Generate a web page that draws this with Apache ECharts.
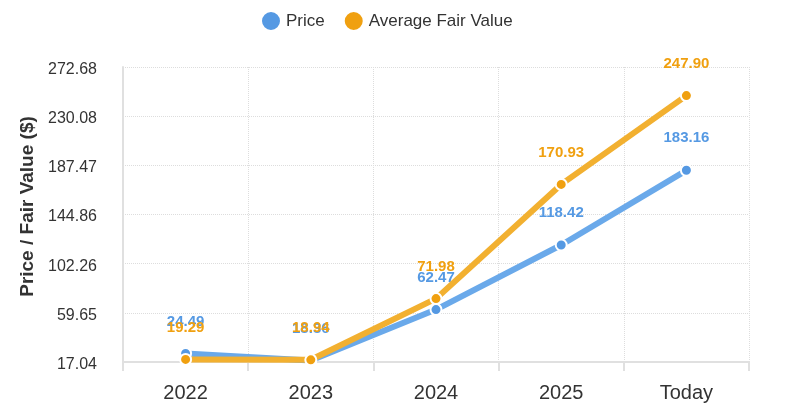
<!DOCTYPE html>
<html>
<head>
<meta charset="utf-8">
<script src="https://cdn.jsdelivr.net/npm/echarts@6/dist/echarts.min.js"></script>
<style>html,body{margin:0;padding:0;background:#fff;}#c{width:795px;height:417px;}</style>
</head>
<body>
<div id="c"></div>
<script>
var categories = ['2022', '2023', '2024', '2025', 'Today'];
var priceValues = [24.49, 18.36, 62.47, 118.42, 183.16];
var fairValues = [19.29, 18.94, 71.98, 170.93, 247.90];
var yTickValues = [17.04, 59.65, 102.26, 144.86, 187.47, 230.08, 272.68];

var chart = echarts.init(document.getElementById('c'), null, {renderer: 'canvas'});
var font = 'Liberation Sans, Arial, sans-serif';
var blue = '#5599e3';
var orange = '#f0a010';
chart.setOption({
  animation: false,
  backgroundColor: '#fff',
  textStyle: {fontFamily: font},
  legend: {
    top: 5,
    left: 255,
    itemWidth: 20,
    itemHeight: 20,
    itemGap: 18,
    icon: 'circle',
    textStyle: {fontSize: 17, color: '#333', fontFamily: font},
    data: ['Price', 'Average Fair Value']
  },
  grid: {left: 123, right: 46, top: 67, bottom: 55, containLabel: false},
  xAxis: {
    type: 'category',
    data: categories,
    boundaryGap: true,
    axisLine: {show: true, lineStyle: {color: '#e0e0e0', width: 2}},
    axisTick: {show: true, length: 9, lineStyle: {color: '#e0e0e0', width: 2}},
    axisLabel: {fontSize: 20, color: '#333', margin: 21, fontFamily: font},
    splitLine: {show: true, lineStyle: {color: '#dddddd', type: 'dotted', width: 1}}
  },
  yAxis: {
    type: 'value',
    min: yTickValues[0],
    max: yTickValues[yTickValues.length - 1],
    name: 'Price / Fair Value ($)',
    nameLocation: 'middle',
    nameGap: 86,
    nameTextStyle: {fontSize: 19, fontWeight: 'bold', color: '#333', fontFamily: font, padding: [0, 0, 0, 16]},
    axisLine: {show: true, lineStyle: {color: '#e0e0e0', width: 2}},
    axisTick: {show: false, customValues: yTickValues},
    axisLabel: {
      fontSize: 16, color: '#333', margin: 26, fontFamily: font,
      customValues: yTickValues,
      formatter: function (v) { return '{a|' + v.toFixed(2) + '}'; },
      rich: {a: {fontSize: 16, color: '#333', fontFamily: font, padding: [5, 0, 0, 0]}}
    },
    splitLine: {show: true, lineStyle: {color: '#dddddd', type: 'dotted', width: 1}}
  },
  series: [
    {
      name: 'Price',
      type: 'line',
      data: priceValues,
      symbol: 'circle',
      symbolSize: 11,
      itemStyle: {color: blue, borderColor: '#fff', borderWidth: 2},
      lineStyle: {color: '#6aa9ea', width: 6},
      label: {show: true, position: 'top', distance: 18, fontSize: 15, fontWeight: 'bold', color: blue, fontFamily: font,
        formatter: function (p) { return p.value.toFixed(2); }},
      z: 2
    },
    {
      name: 'Average Fair Value',
      type: 'line',
      data: fairValues,
      symbol: 'circle',
      symbolSize: 11,
      itemStyle: {color: orange, borderColor: '#fff', borderWidth: 2},
      lineStyle: {color: '#f2b030', width: 6},
      label: {show: true, position: 'top', distance: 18, fontSize: 15, fontWeight: 'bold', color: orange, fontFamily: font,
        formatter: function (p) { return p.value.toFixed(2); }},
      z: 3
    }
  ]
});
</script>
</body>
</html>
